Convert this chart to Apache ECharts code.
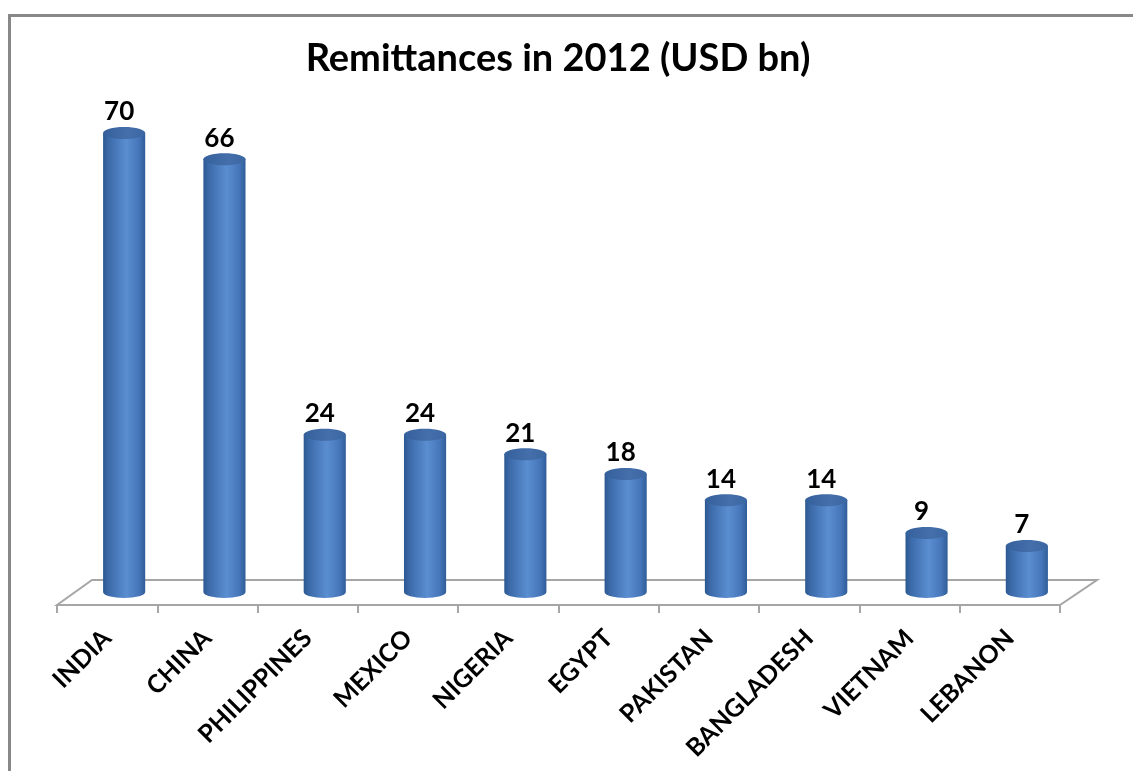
<!DOCTYPE html>
<html>
<head>
<meta charset="utf-8">
<script src="https://cdn.jsdelivr.net/npm/echarts@6/dist/echarts.min.js"></script>
<style>
html,body{margin:0;padding:0;background:#fff;}
#c{width:1133px;height:771px;}
</style>
</head>
<body>
<div id="c"></div>
<script>
const titleText = 'Remittances in 2012 (USD bn)';
const categories = ['INDIA','CHINA','PHILIPPINES','MEXICO','NIGERIA','EGYPT','PAKISTAN','BANGLADESH','VIETNAM','LEBANON'];
const values = [70, 66, 24, 24, 21, 18, 14, 14, 9, 7];

const FONT = 'Lato, "Open Sans", sans-serif';
const chart = echarts.init(document.getElementById('c'));

const bodyGrad = new echarts.graphic.LinearGradient(0, 0, 1, 0, [
  {offset: 0, color: '#2c5890'},
  {offset: 0.12, color: '#3b69a8'},
  {offset: 0.55, color: '#5a8ed1'},
  {offset: 0.85, color: '#4676b9'},
  {offset: 1, color: '#305d99'}
]);
const topGrad = new echarts.graphic.LinearGradient(0, 0, 1, 0, [
  {offset: 0, color: '#34609b'},
  {offset: 0.6, color: '#456fab'},
  {offset: 1, color: '#3a66a2'}
]);

chart.setOption({
  animation: false,
  backgroundColor: '#fff',
  title: {
    text: titleText,
    left: 553,
    textAlign: 'center',
    top: 35,
    textStyle: {fontFamily: FONT, fontWeight: 'bold', fontSize: 38, color: '#000'}
  },
  graphic: [
    {type: 'rect', shape: {x: 8, y: 14, width: 1125, height: 3}, style: {fill: '#888'}, silent: true},
    {type: 'rect', shape: {x: 8, y: 14, width: 3, height: 757}, style: {fill: '#888'}, silent: true}
  ],
  grid: [
    {left: 74, right: 56, top: 133, bottom: 179},
    {left: 57, right: 73, top: 598, bottom: 166}
  ],
  xAxis: [
    {type: 'category', gridIndex: 0, data: categories, show: false},
    {
      type: 'category', gridIndex: 1, data: categories,
      axisLine: {show: true, lineStyle: {color: '#a6a6a6', width: 2}},
      axisTick: {show: true, length: 8, lineStyle: {color: '#a6a6a6', width: 2}},
      axisLabel: {
        rotate: 45, margin: 29, interval: 0,
        fontFamily: FONT, fontWeight: 'bold', fontSize: 25, color: '#000'
      }
    }
  ],
  yAxis: [
    {type: 'value', gridIndex: 0, min: 0, max: 70, show: false},
    {type: 'value', gridIndex: 1, min: 0, max: 1, show: false}
  ],
  series: [
    {
      type: 'custom',
      xAxisIndex: 0, yAxisIndex: 0,
      z: 1,
      data: [[0, 0]],
      renderItem: function (params, api) {
        const cs = params.coordSys;
        const base = api.coord([0, 0])[1];
        const x0 = cs.x, x1 = cs.x + cs.width;
        return {
          type: 'polygon',
          shape: {points: [
            [x0 - 17, base + 13], [x0 + 18, base - 12],
            [x1 + 20, base - 12], [x1 - 17, base + 13]
          ]},
          style: {fill: '#fff', stroke: '#a6a6a6', lineWidth: 2},
          silent: true
        };
      }
    },
    {
      type: 'custom',
      xAxisIndex: 0, yAxisIndex: 0,
      z: 3,
      data: values.map((v, i) => [i, v]),
      renderItem: function (params, api) {
        const idx = api.value(0);
        const val = api.value(1);
        const b = api.coord([idx, 0]);
        const t = api.coord([idx, val]);
        const cx = b[0];
        const hw = api.size([1, 0])[0] * 0.21;
        const ry = 6;
        const base = b[1], top = t[1];
        const path = 'M' + (cx - hw) + ' ' + top +
          ' L' + (cx - hw) + ' ' + base +
          ' A' + hw + ' ' + ry + ' 0 0 0 ' + (cx + hw) + ' ' + base +
          ' L' + (cx + hw) + ' ' + top + ' Z';
        return {
          type: 'group',
          children: [
            {type: 'path', shape: {pathData: path}, style: {fill: bodyGrad}},
            {type: 'ellipse', shape: {cx: cx, cy: top, rx: hw, ry: ry}, style: {fill: topGrad}},
            {
              type: 'text',
              style: {
                text: String(val), x: cx - 5, y: top - ry - 2,
                align: 'center', verticalAlign: 'bottom',
                font: 'bold 26px ' + FONT, fill: '#000'
              }
            }
          ]
        };
      }
    }
  ]
});
</script>
</body>
</html>
